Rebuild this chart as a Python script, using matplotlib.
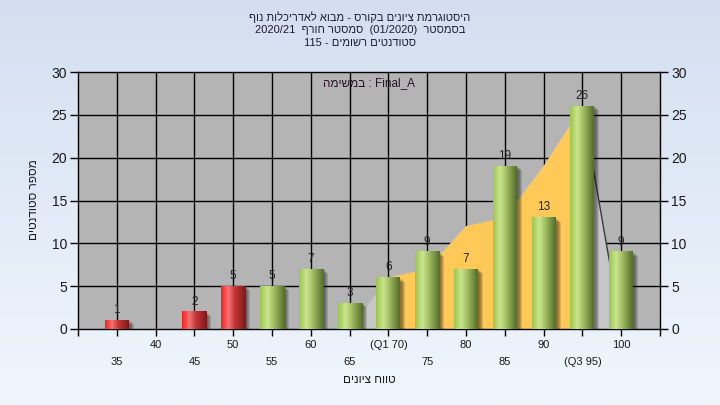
import numpy as np
import matplotlib
matplotlib.use("Agg")
import matplotlib.pyplot as plt
from matplotlib.colors import LinearSegmentedColormap
from matplotlib.patches import Rectangle, Polygon

plt.rcParams['font.family'] = ['Liberation Sans', 'DejaVu Sans']

# ─────────────────────────────────────────────
# Data
# ─────────────────────────────────────────────
grades = [35, 40, 45, 50, 55, 60, 65, 70, 75, 80, 85, 90, 95, 100]
counts = [1, 0, 2, 5, 5, 7, 3, 6, 9, 7, 19, 13, 26, 9]
tick_labels = ["35", "40", "45", "50", "55", "60", "65", "(Q1 70)",
               "75", "80", "85", "90", "(Q3 95)", "100"]

# background distribution area
area_x = [65, 70, 75, 80, 85, 90, 95, 100]
area_y = [0, 6, 7, 12, 13, 19, 26, 0]
q1, q3 = 70, 95
pass_grade = 55

title_lines = ["היסטוגרמת ציונים בקורס - מבוא לאדריכלות נוף",
               "בסמסטר  (01/2020)  סמסטר חורף  2020/21",
               "סטודנטים רשומים - 115"]
task_word = "במשימה"
task_name = "Final_A"
x_title = "טווח ציונים"
y_title = "מספר סטודנטים"


def rtl(s):
    # matplotlib writes left to right -> put hebrew in visual order
    out = []
    for w in s.split(" ")[::-1]:
        if any("\u0590" <= c <= "\u05ff" for c in w):
            w = w[::-1]
        out.append(w)
    return " ".join(out)


# ─────────────────────────────────────────────
# Figure
# ─────────────────────────────────────────────
W, H = 720, 405
fig = plt.figure(figsize=(W / 100, H / 100), dpi=100)

bg = fig.add_axes([0, 0, 1, 1], zorder=-5)
grad = np.linspace(0, 1, 256).reshape(-1, 1)
bg_cmap = LinearSegmentedColormap.from_list("bg", ["#D3DFF0", "#F0F6FD"])
bg.imshow(grad, cmap=bg_cmap, aspect="auto", extent=[0, 1, 0, 1], origin="upper")
bg.axis("off")

L, R, T, B = 78, 660, 72, 329
ax = fig.add_axes([L / W, 1 - B / H, (R - L) / W, (B - T) / H])
ax.set_facecolor("#B4B4B4")

xmin, xmax = 30, 105
ymin, ymax = 0, 30
px_x = (xmax - xmin) / (R - L)
px_y = (ymax - ymin) / (B - T)

# area: light gray outside Q1..Q3, yellow inside
ax.add_patch(Polygon(list(zip(area_x, area_y)), closed=True,
                     facecolor="#C6C6C6", edgecolor="none", zorder=1))
xs = np.array(area_x, dtype=float)
ys = np.array(area_y, dtype=float)
inner = (xs >= q1) & (xs <= q3)
yq1 = np.interp(q1, xs, ys)
yq3 = np.interp(q3, xs, ys)
poly_in = [(q1, 0), (q1, yq1)] + list(zip(xs[inner], ys[inner])) + [(q3, yq3), (q3, 0)]
ax.add_patch(Polygon(poly_in, closed=True, facecolor="#FFC957",
                     edgecolor="none", zorder=1.1))
ax.plot(area_x[-2:], area_y[-2:], color="#3A3A3A", lw=1.0, zorder=1.2)

# grid
for g in grades:
    ax.axvline(g, color="black", lw=1.0, zorder=0.5)
for v in range(5, 30, 5):
    ax.axhline(v, color="black", lw=1.0, zorder=0.5)

# bars with cylinder shading
green = LinearSegmentedColormap.from_list(
    "g", [(0, "#9CC64C"), (0.3, "#C9E590"), (0.55, "#A2BF62"), (1, "#536B2C")])
red = LinearSegmentedColormap.from_list(
    "r", [(0, "#FF1C1C"), (0.3, "#F07474"), (0.55, "#C63636"), (1, "#7C1818")])
bw = 24 * px_x
shade = np.linspace(0, 1, 128).reshape(1, -1)

for g, c, lab in zip(grades, counts, tick_labels):
    if c == 0:
        continue
    x0 = g - bw / 2
    # soft shadow
    for k in range(4):
        ax.add_patch(Rectangle((x0 + (5 - k) * px_x, -(4 - k) * px_y), bw,
                               c, facecolor="black", alpha=0.13,
                               edgecolor="none", zorder=2))
    cmap = red if g < pass_grade else green
    ax.imshow(shade, cmap=cmap, aspect="auto", extent=[x0, x0 + bw, 0, c],
              zorder=3, interpolation="bilinear")
    ax.annotate(str(c), (g, c), xytext=(0, 3), textcoords="offset points",
                ha="center", va="bottom", fontsize=8.5, color="#222222",
                zorder=4)

ax.set_xlim(xmin, xmax)
ax.set_ylim(ymin, ymax)

for s in ax.spines.values():
    s.set_color("black")
    s.set_linewidth(1.0)

ax.set_xticks(range(xmin, xmax + 1, 5))
ax.set_xticklabels([])
ax.tick_params(axis="x", direction="out", length=5, width=1, color="black")
ax.set_yticks(range(0, 31, 5))
ax.tick_params(axis="y", direction="out", length=6, width=1, color="black",
               labelsize=10, pad=2, labelcolor="#1A1A1A")

ax2 = ax.twinx()
ax2.set_ylim(ymin, ymax)
ax2.set_yticks(range(0, 31, 5))
ax2.tick_params(axis="y", direction="out", length=6, width=1, color="black",
                labelsize=10, pad=2, labelcolor="#1A1A1A")
for s in ax2.spines.values():
    s.set_visible(False)

# staggered x labels
for i, (g, lab) in enumerate(zip(grades, tick_labels)):
    off = -11.5 if i % 2 == 1 else -23.8
    ax.annotate(lab, (g, 0), xycoords=("data", "axes fraction"),
                xytext=(0, off), textcoords="offset points",
                ha="center", va="center", fontsize=8, color="#1A1A1A")

ax.annotate(rtl(x_title), (0.5, 0), xycoords="axes fraction",
            xytext=(0, -37), textcoords="offset points",
            ha="center", va="center", fontsize=8.5, color="#1A1A1A")
fig.text(34 / W, 1 - 200 / H, rtl(y_title), rotation=90,
         ha="center", va="center", fontsize=8.5, color="#1A1A1A")

ax.text(0.5, 0.955, rtl(task_word) + " : " + task_name, transform=ax.transAxes,
        ha="center", va="center", fontsize=8.5, color="#2A1030", zorder=5)

for i, line in enumerate(title_lines):
    fig.text(0.5, 1 - (17 + 13 * i) / H, rtl(line), ha="center", va="center",
             fontsize=8, color="#1C1C3A")

fig.savefig("out.png", dpi=100)
